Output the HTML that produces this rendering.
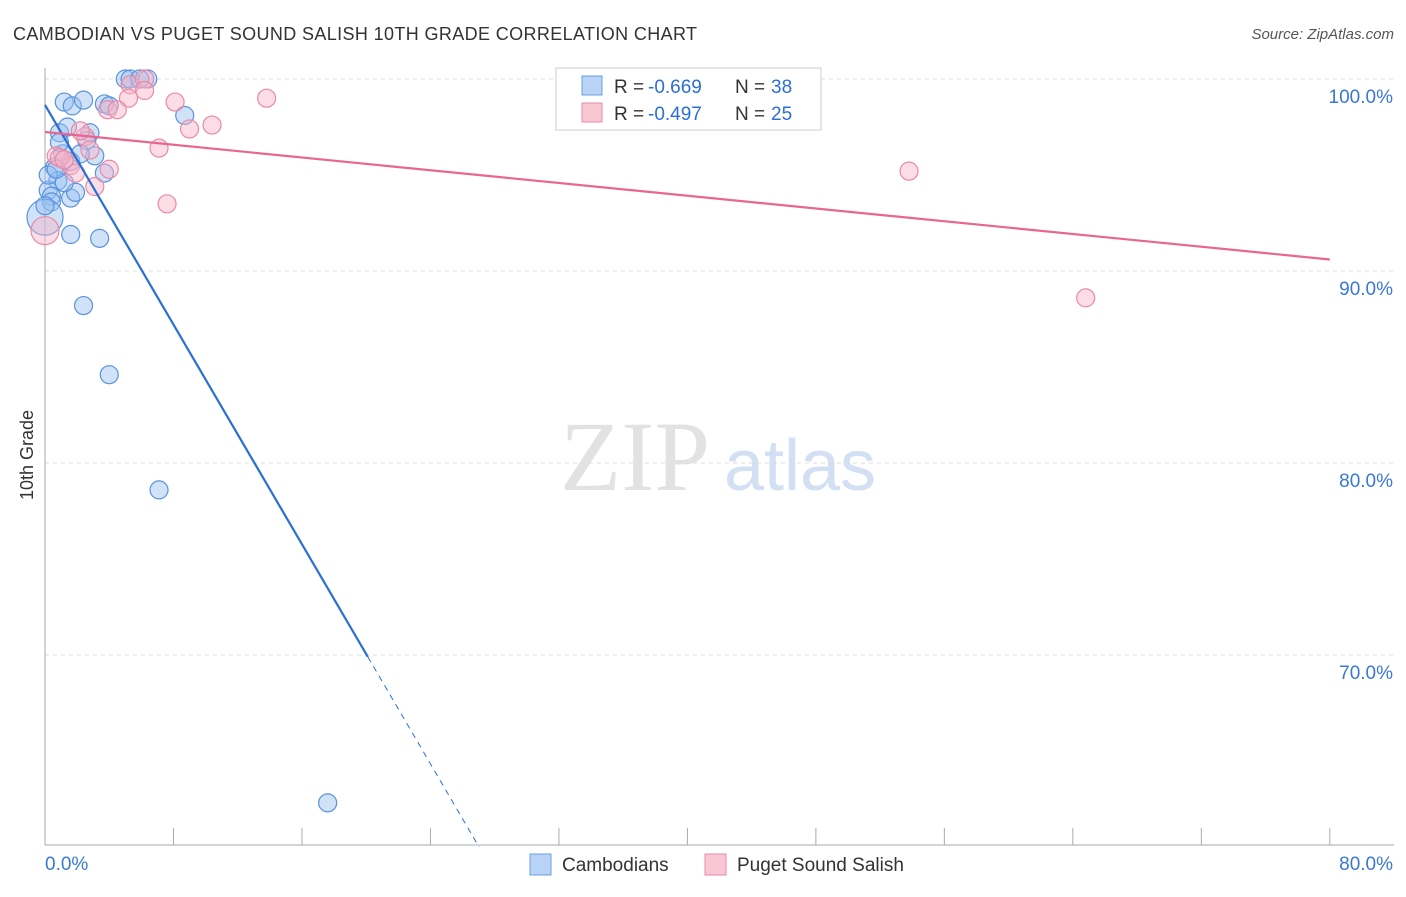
<!DOCTYPE html>
<html><head><meta charset="utf-8"><style>
body{margin:0;background:#fff;font-family:"Liberation Sans",sans-serif}
svg text{font-family:"Liberation Sans",sans-serif}
</style></head><body>
<svg id="c" width="1406" height="892">
<text x="13" y="40" font-size="18" fill="#333" textLength="684">CAMBODIAN VS PUGET SOUND SALISH 10TH GRADE CORRELATION CHART</text>
<text x="1394" y="39" font-size="15" fill="#555" font-style="italic" text-anchor="end">Source: ZipAtlas.com</text>
<text x="33" y="455" font-size="18" fill="#333" transform="rotate(-90 33 455)" text-anchor="middle">10th Grade</text>
<g><text x="635" y="490" font-size="100" fill="#e2e2e2" style="font-family:'Liberation Serif',serif" text-anchor="middle">ZIP</text><text x="800" y="490" font-size="72" fill="#d3e0f3" text-anchor="middle">atlas</text></g>
<g id="grid"></g><g id="axes"></g><g id="pts"></g><g id="lines"></g>
<g>
<rect x="556" y="68" width="265" height="62" fill="#fff" stroke="#ccc"/>
<rect x="582" y="76" width="20" height="19" fill="#b8d3f5" stroke="#6a9fe0"/>
<rect x="582" y="103" width="20" height="19" fill="#f9c6d4" stroke="#e88aa6"/>
<text x="614" y="93" font-size="19" fill="#333">R =</text><text x="648" y="93" font-size="19" fill="#2a6fd6">-0.669</text>
<text x="735" y="93" font-size="19" fill="#333">N =</text><text x="771" y="93" font-size="19" fill="#2a6fd6">38</text>
<text x="614" y="120" font-size="19" fill="#333">R =</text><text x="648" y="120" font-size="19" fill="#2a6fd6">-0.497</text>
<text x="735" y="120" font-size="19" fill="#333">N =</text><text x="771" y="120" font-size="19" fill="#2a6fd6">25</text>
</g>
<g>
<rect x="530" y="854" width="21" height="21" fill="#b8d3f5" stroke="#6a9fe0"/>
<text x="562" y="871" font-size="19" fill="#333">Cambodians</text>
<rect x="705" y="854" width="21" height="21" fill="#f9c6d4" stroke="#e88aa6"/>
<text x="737" y="871" font-size="19" fill="#333">Puget Sound Salish</text>
</g>
</svg>
<script>
const xTicks=[0,80];
const yTicks=[70,80,90,100];
const blueX=[5.0,5.3,6.4,1.2,1.7,2.4,3.7,8.7,0.9,1.4,2.8,2.6,1.1,3.1,0.6,1.6,0.8,3.7,0.2,0.4,0.4,1.6,1.9,0.0,1.6,3.4,2.4,4.0,7.1,17.6,0.9,2.2,0.2,1.2,4.0,5.9,0.7,0.0];
const blueY=[100,100,100,98.8,98.6,98.9,98.7,98.1,97.2,97.5,97.2,96.8,96.1,96.0,95.4,95.7,94.7,95.1,94.2,93.9,93.6,93.8,94.1,92.8,91.9,91.7,88.2,84.6,78.6,62.3,96.7,96.1,95.0,94.6,98.6,100,95.3,93.4];
const blueR=[9,9,9,9,9,9,9,9,9,9,9,9,9,9,9,9,9,9,9,9,9,9,9,18,9,9,9,9,9,9,9,9,9,9,9,9,9,9];
const pinkX=[5.3,6.2,6.2,5.2,8.1,13.8,3.9,4.5,10.4,9.0,2.5,2.8,7.1,0.7,1.6,4.0,3.1,7.6,0.0,53.8,64.8,2.2,0.9,1.2,1.9];
const pinkY=[99.7,100,99.4,99.0,98.8,99.0,98.4,98.4,97.6,97.4,97.0,96.3,96.4,96.0,95.5,95.3,94.4,93.5,92.1,95.2,88.6,97.3,95.9,95.8,95.1];
const pinkR=[9,9,9,9,9,9,9,9,9,9,9,9,9,9,9,9,9,9,14,9,9,9,9,9,9];
const blueLine=[98.65,-1.43];
const pinkLine=[97.24,-0.083];
const NS='http://www.w3.org/2000/svg';
const X=v=>45+v*16.06, Y=v=>79+(100-v)*19.2;
function mk(p,t,a){const e=document.createElementNS(NS,t);for(const k in a)e.setAttribute(k,a[k]);document.getElementById(p).appendChild(e);return e;}
yTicks.forEach(t=>{
 const l=mk('grid','line',{x1:45,x2:1394,y1:Y(t),y2:Y(t),stroke:'#ddd','stroke-dasharray':'4,4'});
 
 
 const tx=mk('grid','text',{x:1393,y:Y(t)+24,'font-size':19,fill:'#3a78d4','text-anchor':'end'});
 tx.textContent=t.toFixed(1)+'%';
 
 
});
let a=mk('axes','line',{x1:45,x2:45,y1:68,y2:845,stroke:'#aaa'});


a=mk('axes','line',{x1:45,x2:1394,y1:845,y2:845,stroke:'#aaa'});


for(let i=0;i<=10;i++){const t=mk('axes','line',{x1:X(i*8),x2:X(i*8),y1:828,y2:845,stroke:'#aaa'});
 
 }
xTicks.forEach((t,i)=>{const tx=mk('axes','text',{x:i?1393:45,y:870,'font-size':19,fill:'#3a78d4','text-anchor':i?'end':'start'});
 tx.textContent=t.toFixed(1)+'%';
 
 });
function pts(xs,ys,rs,f,s,n){xs.forEach((v,i)=>{const c=mk('pts','circle',{cx:X(v),cy:Y(ys[i]),r:rs[i],fill:f,stroke:s,'stroke-width':1.2});
 
 });}
pts(blueX,blueY,blueR,'rgba(150,190,240,0.45)','#5a93dc','cambodian-point');
pts(pinkX,pinkY,pinkR,'rgba(248,180,200,0.45)','#e88aa6','puget-point');
const bEnd=20.1, bZero=(60-blueLine[0])/blueLine[1];
let l=mk('lines','line',{x1:X(0),y1:Y(blueLine[0]),x2:X(bEnd),y2:Y(blueLine[0]+blueLine[1]*bEnd),stroke:'#2a6fd6','stroke-width':2.2});


l=mk('lines','line',{x1:X(bEnd),y1:Y(blueLine[0]+blueLine[1]*bEnd),x2:X(bZero),y2:Y(60),stroke:'#2a6fd6','stroke-width':1,'stroke-dasharray':'6,5'});


l=mk('lines','line',{x1:X(0),y1:Y(pinkLine[0]),x2:X(80),y2:Y(pinkLine[0]+pinkLine[1]*80),stroke:'#e8668f','stroke-width':2.2});


</script>
</body></html>
